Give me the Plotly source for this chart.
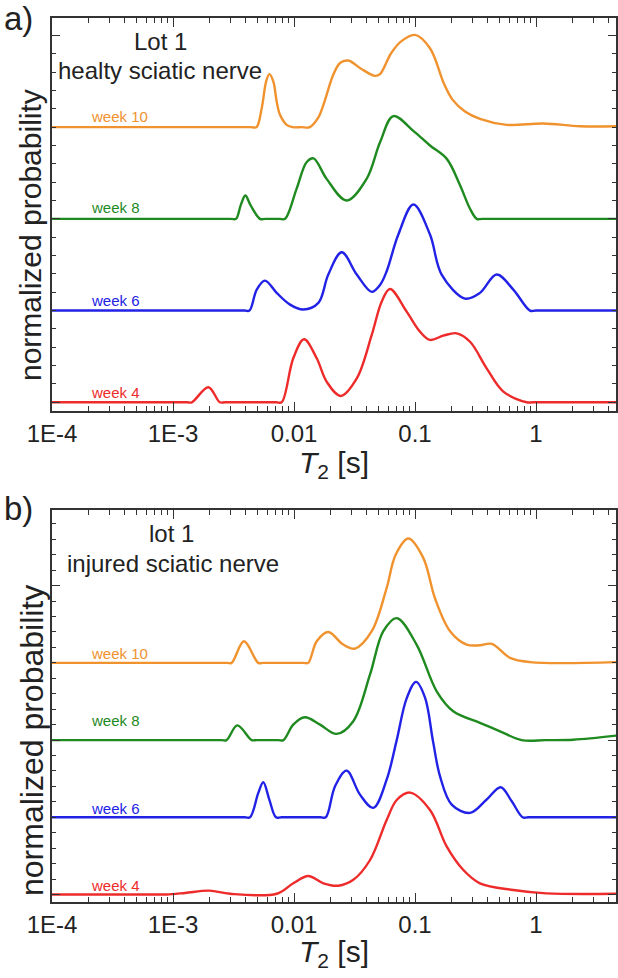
import plotly.graph_objects as go

# ---------------- data ----------------
# Panel a) Lot 1, healthy sciatic nerve.  T2 in seconds, h = curve height above its baseline
a_w10_t2 = [1e-4, 0.0044, 0.0049, 0.00541, 0.00588, 0.00625, 0.00675, 0.00719, 0.00766, 0.0087, 0.00977,
            0.0115, 0.0135, 0.0158, 0.0175, 0.0211, 0.024, 0.0281, 0.0355, 0.0467, 0.0514, 0.0631, 0.0759,
            0.100, 0.133, 0.174, 0.204, 0.259, 0.344, 0.573, 1.15, 2.31, 4.6]
a_w10_h = [0, 0, 0, 0.207, 0.497, 0.578, 0.497, 0.279, 0.134, 0.025, 0,
           0, 0, 0.10, 0.243, 0.57, 0.70, 0.726, 0.64, 0.559, 0.578, 0.80, 0.93,
           1.006, 0.86, 0.47, 0.30, 0.17, 0.09, 0.025, 0.04, 0.01, 0.01]

a_w8_t2 = [1e-4, 0.0030, 0.00332, 0.00363, 0.00396, 0.00437, 0.00524, 0.0058, 0.0076, 0.00843, 0.0105,
           0.0127, 0.0145, 0.0186, 0.0272, 0.0398, 0.0514, 0.0662, 0.0968, 0.133, 0.183, 0.236, 0.285,
           0.324, 0.36, 4.6]
a_w8_h = [0, 0, 0, 0.15, 0.254, 0.15, 0, 0, 0, 0, 0.327,
          0.617, 0.66, 0.436, 0.20, 0.436, 0.835, 1.12, 0.96, 0.80, 0.654, 0.363, 0.11,
          0, 0, 0]

a_w6_t2 = [1e-4, 0.0039, 0.00428, 0.00492, 0.00575, 0.00719, 0.00927, 0.0119, 0.0159, 0.0192, 0.0248,
           0.033, 0.0439, 0.0514, 0.0583, 0.0728, 0.097, 0.133, 0.166, 0.259, 0.344, 0.473, 0.649,
           0.891, 1.0, 4.6]
a_w6_h = [0, 0, 0, 0.229, 0.327, 0.193, 0.065, 0.011, 0.084, 0.393, 0.636,
          0.393, 0.204, 0.28, 0.429, 0.829, 1.156, 0.829, 0.393, 0.131, 0.193, 0.393, 0.229,
          0, 0, 0]

a_w4_t2 = [1e-4, 0.0013, 0.00143, 0.00196, 0.00244, 0.0027, 0.0071, 0.0079, 0.00986, 0.0121, 0.0154,
           0.0186, 0.0243, 0.033, 0.0439, 0.053, 0.0621, 0.0853, 0.110, 0.133, 0.171, 0.221, 0.285,
           0.391, 0.537, 0.838, 0.95, 4.6]
a_w4_h = [0, 0, 0, 0.164, 0, 0, 0, 0, 0.48, 0.687, 0.48,
          0.225, 0.069, 0.26, 0.734, 1.097, 1.235, 0.988, 0.77, 0.68, 0.726, 0.752, 0.66,
          0.37, 0.116, 0, 0, 0]

# Panel b) lot 1, injured sciatic nerve
b_w10_t2 = [1e-4, 0.0028, 0.00305, 0.00386, 0.00507, 0.0056, 0.0120, 0.0131, 0.0154, 0.0192, 0.0255,
            0.0319, 0.0439, 0.0583, 0.0692, 0.0881, 0.117, 0.146, 0.195, 0.267, 0.344, 0.431, 0.61,
            0.891, 4.6]
b_w10_h = [0, 0, 0, 0.28, 0, 0, 0, 0, 0.28, 0.40, 0.237,
           0.185, 0.41, 0.97, 1.40, 1.61, 1.36, 0.84, 0.41, 0.237, 0.228, 0.246, 0.065,
           0.01, 0.01]

b_w8_t2 = [1e-4, 0.0025, 0.00277, 0.0034, 0.00447, 0.0049, 0.0074, 0.00817, 0.00986, 0.0123, 0.0164,
           0.0225, 0.0309, 0.0425, 0.0547, 0.0706, 0.103, 0.151, 0.207, 0.344, 0.504, 0.762, 1.2, 2.03,
           4.6]
b_w8_h = [0, 0, 0, 0.19, 0, 0, 0, 0, 0.20, 0.295, 0.20,
          0.08, 0.245, 0.85, 1.41, 1.58, 1.237, 0.632, 0.373, 0.223, 0.114, 0, 0, 0.005,
          0.058]

b_w6_t2 = [1e-4, 0.0039, 0.00433, 0.00507, 0.00557, 0.00625, 0.0071, 0.0079, 0.0165, 0.0183, 0.0218,
           0.0272, 0.0351, 0.0452, 0.0583, 0.0706, 0.0853, 0.102, 0.121, 0.141, 0.161, 0.201, 0.285,
           0.391, 0.511, 0.63, 0.776, 0.86, 4.6]
b_w6_h = [0, 0, 0, 0.316, 0.453, 0.23, 0, 0, 0, 0, 0.40,
          0.605, 0.294, 0.122, 0.488, 1.0, 1.54, 1.754, 1.55, 0.98, 0.53, 0.165, 0.057,
          0.23, 0.39, 0.207, 0, 0, 0]

b_w4_t2 = [1e-4, 0.0008, 0.00089, 0.00126, 0.0020, 0.00296, 0.0072, 0.00986, 0.0131, 0.0175, 0.0232,
           0.0309, 0.0425, 0.0583, 0.0706, 0.091, 0.133, 0.183, 0.251, 0.344, 0.649, 1.22, 4.6]
b_w4_h = [0, 0, 0, 0.02, 0.05, 0.01, 0.01, 0.145, 0.24, 0.145, 0.114,
          0.19, 0.447, 0.965, 1.224, 1.32, 1.095, 0.62, 0.317, 0.145, 0.058, 0.015, 0.01]

weeks = ["week 4", "week 6", "week 8", "week 10"]
offsets = [0, 1, 2, 3]
colors = ["#EE2B2B", "#2222E6", "#1F8A1F", "#F0922E"]

x_tickvals = [1e-4, 1e-3, 1e-2, 1e-1, 1]
x_ticktext = ["1E-4", "1E-3", "0.01", "0.1", "1"]
x_minor = [m * 10.0 ** e for e in range(-4, 1) for m in range(2, 10)]

W, H = 618, 978
FONT = "Liberation Sans, Arial, sans-serif"


def px(x):
    return x / W


def py(y):
    return 1 - y / H


fig = go.Figure()

panels = [
    ("x", "y", [(a_w4_t2, a_w4_h), (a_w6_t2, a_w6_h), (a_w8_t2, a_w8_h), (a_w10_t2, a_w10_h)]),
    ("x2", "y2", [(b_w4_t2, b_w4_h), (b_w6_t2, b_w6_h), (b_w8_t2, b_w8_h), (b_w10_t2, b_w10_h)]),
]
for xa, ya, series in panels:
    for (t2, h), off, col, wk in zip(series, offsets, colors, weeks):
        fig.add_trace(go.Scatter(
            x=t2, y=[off + v for v in h], mode="lines", name=wk,
            line=dict(color=col, width=2.4, shape="spline", smoothing=1.0),
            xaxis=xa, yaxis=ya, showlegend=False, hoverinfo="skip"))

xcommon = dict(type="log", range=[-4, 0.661], tickvals=x_tickvals, ticktext=x_ticktext,
               ticks="inside", ticklen=9, tickwidth=1.4, tickcolor="#333",
               showline=True, linewidth=1.6, linecolor="#333", mirror="ticks",
               showgrid=False, zeroline=False, automargin=False,
               tickfont=dict(family=FONT, size=24, color="#222"),
               minor=dict(ticks="inside", ticklen=5, tickwidth=1.2, tickcolor="#333",
                          tickvals=x_minor, showgrid=False))
ycommon = dict(ticks="inside", ticklen=8, tickwidth=1.4, tickcolor="#333", tick0=0, dtick=2,
               showticklabels=False, showline=True, linewidth=1.6, linecolor="#333",
               mirror="ticks", showgrid=False, zeroline=False, automargin=False,
               minor=dict(ticks="inside", ticklen=4, tickwidth=1.2, tickcolor="#333",
                          dtick=0.2, tick0=0, showgrid=False))

fig.update_layout(
    width=W, height=H, margin=dict(l=0, r=0, t=0, b=0, autoexpand=False),
    paper_bgcolor="white", plot_bgcolor="white",
    xaxis=dict(domain=[px(52), px(616)], anchor="y", **xcommon),
    yaxis=dict(domain=[py(411), py(18)], anchor="x", range=[-0.095, 4.19], **ycommon),
    xaxis2=dict(domain=[px(52), px(616)], anchor="y2", **xcommon),
    yaxis2=dict(domain=[py(902), py(510)], anchor="x2", range=[-0.097, 4.98], **ycommon),
)

ann = []


def add(text, x, y, size, color="#222", xanchor="center", yanchor="middle", angle=0):
    ann.append(dict(text=text, x=px(x), y=py(y), xref="paper", yref="paper",
                    xanchor=xanchor, yanchor=yanchor, showarrow=False, textangle=angle,
                    font=dict(family=FONT, size=size, color=color)))


add("a)", 2, 18, 33, xanchor="left")
add("b)", 2, 508, 33, xanchor="left")
add("Lot 1", 160, 42, 24)
add("healty sciatic nerve", 160, 71, 24)
add("lot 1", 171, 533, 24)
add("injured sciatic nerve", 173, 563, 24)

a_label_y = [392, 300, 207, 117]
b_label_y = [885, 808, 720, 653]
for wk, col, ya, yb in zip(weeks, colors, a_label_y, b_label_y):
    add(wk, 89, ya, 15, color=col, xanchor="left")
    add(wk, 89, yb, 15, color=col, xanchor="left")

add("normalized probability", 31, 235, 30, angle=-90)
add("normalized probability", 32, 741, 32, angle=-90)
add("<i>T</i><sub>2</sub> [s]", 334, 465, 30)
add("<i>T</i><sub>2</sub> [s]", 334, 953, 30)

fig.update_layout(annotations=ann)
fig.write_html("out.html", config={"displayModeBar": False},
               post_script="document.body.style.margin='0';")
